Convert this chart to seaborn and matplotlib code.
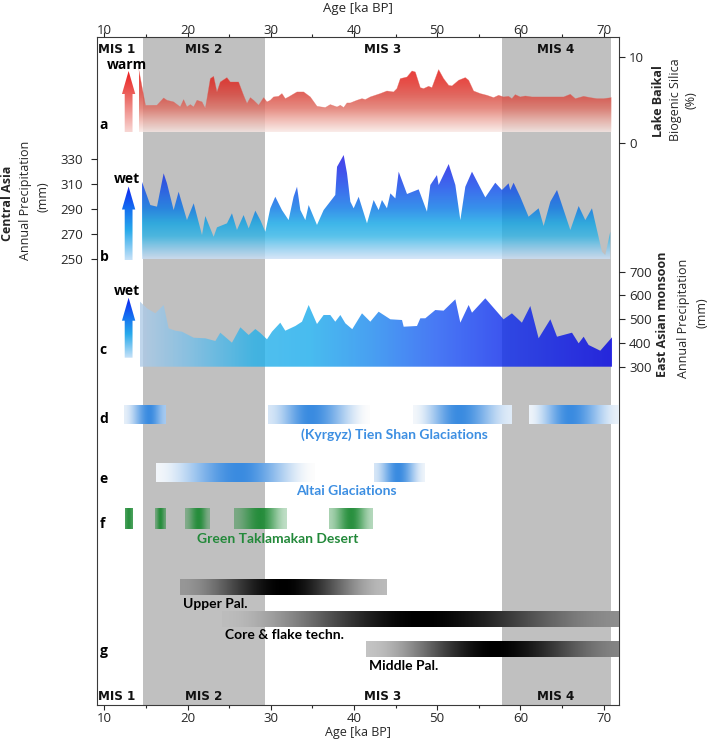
import numpy as np
import matplotlib
matplotlib.use("Agg")
import matplotlib.pyplot as plt
from matplotlib.colors import LinearSegmentedColormap, to_rgb
from matplotlib.ticker import MultipleLocator
from matplotlib import font_manager
import seaborn as sns

# ------------------------------------------------------------------ data
mis_names = ["MIS 1", "MIS 2", "MIS 3", "MIS 4"]
mis_label_age = [11.5, 22.0, 43.5, 64.3]
grey_start = [14.6, 57.8]
grey_end = [29.3, 70.9]

baikal_age = [14.13, 14.95, 16.33, 17.13, 17.53, 18.33, 19.13, 19.53, 19.93, 20.34, 20.74,
              21.14, 21.74, 22.14, 22.74, 23.14, 23.54, 23.94, 24.74, 25.14, 26.14, 26.74,
              27.15, 27.55, 27.95, 28.55, 29.15, 29.55, 29.95, 30.35, 30.95, 31.35, 31.75,
              32.15, 33.16, 33.96, 34.76, 35.56, 36.56, 37.16, 37.97, 38.37, 38.77, 39.17,
              39.57, 40.37, 40.97, 41.37, 41.97, 43.17, 43.97, 44.77, 45.17, 45.58, 46.38,
              46.98, 47.38, 47.98, 48.38, 48.98, 49.38, 50.18, 50.78, 51.39, 51.79, 52.59,
              53.39, 53.79, 54.39, 55.19, 55.99, 56.79, 57.39, 57.99, 58.59, 58.99, 59.39,
              59.99, 60.60, 61.40, 63.61, 65.21, 66.01, 66.61, 67.61, 68.41, 69.21, 70.01, 70.94]
baikal_bsi = [8.65, 4.40, 4.42, 5.27, 5.00, 4.81, 4.22, 5.08, 4.22, 4.50, 4.22,
              5.00, 4.81, 4.03, 7.52, 7.79, 5.97, 7.13, 7.64, 7.13, 7.13, 5.58,
              4.61, 5.31, 5.00, 4.42, 5.31, 4.81, 5.00, 5.39, 5.46, 5.78, 5.19,
              5.39, 5.97, 5.97, 5.39, 4.30, 4.15, 4.50, 4.22, 4.42, 4.15, 4.69,
              4.69, 5.00, 5.19, 5.08, 5.39, 5.78, 6.08, 5.97, 6.36, 7.52, 7.71,
              8.41, 8.29, 6.47, 6.36, 6.63, 6.47, 8.57, 7.52, 6.74, 6.67, 7.33,
              7.64, 7.33, 6.08, 5.78, 5.58, 5.31, 5.58, 5.39, 5.46, 5.19, 5.66,
              5.39, 5.50, 5.39, 5.39, 5.39, 5.70, 5.19, 5.46, 5.31, 5.19, 5.19, 5.31]
baikal_base = 1.3

ca_age = [14.52, 15.53, 16.33, 17.13, 17.53, 18.33, 18.93, 19.93, 20.74, 21.74, 22.14,
          23.14, 23.54, 24.74, 25.34, 25.94, 26.74, 27.35, 28.15, 28.75, 29.35, 29.95,
          30.55, 31.35, 32.15, 32.75, 33.16, 33.56, 34.16, 34.56, 35.56, 36.36, 37.76,
          37.97, 38.77, 39.17, 39.57, 39.97, 40.57, 41.57, 42.37, 42.97, 43.37, 43.97,
          44.38, 44.98, 45.38, 46.38, 47.78, 48.78, 49.18, 49.98, 50.18, 51.39, 52.19,
          52.79, 53.39, 54.19, 55.79, 56.99, 57.79, 58.59, 58.79, 59.19, 59.99, 60.99,
          62.20, 62.80, 63.61, 64.41, 66.01, 67.01, 67.81, 68.61, 69.81, 70.21, 70.81]
ca_precip = [311.9, 293.3, 292.0, 318.6, 310.6, 289.3, 303.9, 281.3, 294.7, 269.4, 284.5,
             268.0, 275.5, 278.7, 286.7, 273.4, 285.3, 274.7, 288.8, 281.3, 272.0, 290.7,
             299.9, 289.3, 281.3, 299.9, 307.9, 289.3, 281.3, 293.3, 277.4, 289.3, 301.3,
             323.8, 333.2, 318.6, 296.0, 290.7, 299.9, 278.7, 297.3, 289.3, 297.3, 290.7,
             302.6, 298.6, 319.9, 302.1, 305.8, 288.0, 309.3, 317.2, 309.3, 326.0, 309.3,
             281.3, 307.9, 319.9, 299.4, 311.1, 305.3, 310.6, 305.3, 311.1, 299.9, 284.0,
             290.7, 276.6, 296.0, 305.3, 273.4, 292.5, 281.3, 290.7, 256.1, 253.4, 272.0]
ca_base = 250

eam_age = [14.25, 15.13, 16.13, 17.13, 17.73, 18.53, 19.33, 20.74, 22.14, 23.34, 23.94,
           25.34, 26.35, 27.35, 28.15, 28.75, 29.55, 30.15, 31.15, 31.75, 32.96, 33.76,
           34.56, 35.56, 36.36, 37.16, 37.76, 38.37, 38.97, 39.80, 40.97, 41.97, 42.97,
           44.38, 45.78, 45.98, 47.58, 47.98, 48.58, 49.78, 50.78, 52.19, 52.79, 53.79,
           54.19, 55.79, 57.99, 58.99, 60.19, 61.20, 62.20, 63.61, 64.41, 66.21, 67.01,
           67.61, 68.21, 69.61, 71.02]
eam_precip = [575.0, 545.9, 524.8, 559.8, 461.7, 451.6, 447.4, 422.1, 419.6, 408.2, 443.2,
              401.1, 465.9, 433.5, 458.7, 442.0, 415.4, 447.4, 485.3, 451.6, 471.4, 489.5,
              559.8, 479.8, 517.7, 517.7, 489.5, 517.7, 482.7, 458.0, 524.8, 489.5, 531.6,
              499.6, 496.6, 468.4, 471.4, 503.8, 503.8, 538.7, 536.0, 583.8, 485.3, 559.8,
              527.4, 588.0, 499.6, 524.8, 485.3, 555.6, 419.6, 499.6, 426.3, 443.2, 398.5,
              426.3, 391.4, 367.4, 423.8]
eam_base = 300

# glaciation / desert / archaeology periods: (start, peak, end) in ka BP
tienshan_periods = [(12.4, 15.4, 17.33), (29.65, 34.7, 41.84), (47.1, 52.6, 58.9), (61.1, 66.0, 71.9)]
altai_periods = [(16.2, 26.2, 35.3), (42.45, 45.3, 48.5)]
taklamakan_periods = [(12.46, 12.9, 13.39), (16.1, 16.7, 17.33), (19.7, 21.3, 22.6),
                      (25.6, 28.8, 31.96), (36.95, 39.6, 42.2)]
techno_names = ["Upper Pal.", "Core & flake techn.", "Middle Pal."]
techno_periods = [(19.1, 31.5, 43.9), (24.15, 47.9, 72.5), (41.5, 56.9, 72.5)]

# ------------------------------------------------------------------ style
sns.set_theme(style="ticks")
plt.rcParams["font.family"] = ["Open Sans", "DejaVu Sans"]
plt.rcParams["axes.linewidth"] = 0.8

# condensed bold font for MIS labels
cond_fp = None
for f in font_manager.fontManager.ttflist:
    nm = f.name.lower()
    if (("condensed" in nm or "narrow" in nm or f.stretch in ("condensed", "semi-condensed"))
            and (f.weight in ("bold", 700) or str(f.weight) == "700")):
        cond_fp = font_manager.FontProperties(fname=f.fname, size=9.5)
        break
if cond_fp is None:
    cond_fp = font_manager.FontProperties(family="DejaVu Sans", weight="bold", size=8)

W, H = 711, 739
L, R, T, B = 97, 619, 37, 705
XLIM = (9.12, 71.86)
fig = plt.figure(figsize=(W / 100, H / 100), dpi=100)
rect = [L / W, 1 - B / H, (R - L) / W, (B - T) / H]
ax_bg = fig.add_axes(rect)
ax_a = fig.add_axes(rect)
ax_b = fig.add_axes(rect)
ax_c = fig.add_axes(rect)
ax_fg = fig.add_axes(rect)
for ax in (ax_a, ax_b, ax_c, ax_fg):
    ax.patch.set_alpha(0)
    for s in ax.spines.values():
        s.set_visible(False)
    ax.tick_params(axis="x", which="both", bottom=False, top=False,
                   labelbottom=False, labeltop=False)
ax_fg.tick_params(axis="y", left=False, right=False, labelleft=False, labelright=False)

FILL_ALPHA = 0.8


def comp(cols, a=FILL_ALPHA):
    out = []
    for pos, c in cols:
        rgb = np.array(c) / 255.0
        out.append((pos, tuple(np.clip((rgb - (1 - a)) / a, 0, 1))))
    return out


def grad_cmap(name, stops):
    return LinearSegmentedColormap.from_list(name, stops)


def gradient_fill(ax, x, y, base, cmap, vertical, extent):
    poly = ax.fill_between(x, base, y, facecolor="none", edgecolor="none")
    ramp = cmap(np.linspace(0, 1, 256))
    img = ramp[:, None, :] if vertical else ramp[None, :, :]
    im = ax.imshow(img, extent=extent, origin="lower", aspect="auto",
                   alpha=FILL_ALPHA, zorder=2, interpolation="bilinear")
    im.set_clip_path(poly.get_paths()[0], transform=ax.transData)


# background: grey MIS bands
for s, e in zip(grey_start, grey_end):
    ax_bg.axvspan(s, e, color="#c0c0c0", lw=0, zorder=0)

# panel a: Lake Baikal
a_top = 9.6
cm_a = grad_cmap("a", comp([(0.0, (250, 236, 233)), (0.15, (242, 195, 188)), (0.33, (230, 140, 130)),
                             (0.51, (225, 104, 96)), (0.69, (230, 78, 72)), (1.0, (236, 50, 50))]))
gradient_fill(ax_a, baikal_age, baikal_bsi, baikal_base, cm_a, True,
              (baikal_age[0], baikal_age[-1], baikal_base, a_top))
sns.lineplot(x=baikal_age, y=baikal_bsi, ax=ax_a, color="#e2625a", lw=0.4, alpha=0.5,
             estimator=None, sort=False)

# panel b: Central Asia precipitation
b_top = 336
cm_b = grad_cmap("b", comp([(0.0, (215, 230, 248)), (0.09, (165, 215, 242)), (0.21, (90, 195, 235)),
                             (0.33, (62, 182, 234)), (0.47, (55, 145, 235)), (0.65, (60, 110, 238)),
                             (0.81, (65, 82, 236)), (1.0, (72, 60, 232))]))
gradient_fill(ax_b, ca_age, ca_precip, ca_base, cm_b, True,
              (ca_age[0], ca_age[-1], ca_base, b_top))

# panel c: East Asian monsoon precipitation (horizontal gradient)
cm_c = grad_cmap("c", comp([(0.0, (192, 214, 236)), (0.1, (150, 205, 238)), (0.24, (80, 192, 238)),
                             (0.36, (72, 188, 240)), (0.49, (72, 160, 242)), (0.63, (72, 120, 245)),
                             (0.77, (60, 85, 240)), (1.0, (45, 40, 232))]))
gradient_fill(ax_c, eam_age, eam_precip, eam_base, cm_c, False,
              (eam_age[0], eam_age[-1], eam_base, 620))

# y axes of panels
ax_a.set_ylim(-65.31, 12.36)
ax_a.yaxis.set_ticks_position("right")
ax_a.set_yticks([0, 10])
ax_a.tick_params(axis="y", direction="out", length=4.2, width=0.8, pad=3, labelsize=9.5,
                 right=True, left=False, labelright=True, labelleft=False)

ax_b.set_ylim(-105.4, 427.3)
ax_b.yaxis.set_ticks_position("left")
ax_b.set_yticks([250, 270, 290, 310, 330])
ax_b.tick_params(axis="y", direction="out", length=4.3, width=0.8, pad=6, labelsize=9.5,
                 left=True, right=False, labelleft=True, labelright=False)

ax_c.set_ylim(-1124.4, 1688.2)
ax_c.yaxis.set_ticks_position("right")
ax_c.set_yticks([300, 400, 500, 600, 700])
ax_c.tick_params(axis="y", direction="out", length=4.2, width=0.8, pad=3, labelsize=9.5,
                 right=True, left=False, labelright=True, labelleft=False)

# ------------------------------------------------------------------ foreground (pixel rows)
ax_fg.set_ylim(B, T)


def arrow(ax, yt, yb, hl, stops):
    xc, hw, hh = 12.92, 0.47, 0.80
    pts = [(xc - hw, yb), (xc + hw, yb), (xc + hw, yt + hl), (xc + hh, yt + hl), (xc, yt),
           (xc - hh, yt + hl), (xc - hw, yt + hl)]
    poly = plt.Polygon(pts, closed=True, facecolor="none", edgecolor="none")
    ax.add_patch(poly)
    ramp = grad_cmap("ar", stops)(np.linspace(0, 1, 256))
    im = ax.imshow(ramp[:, None, :], extent=(xc - hh, xc + hh, yb, yt), origin="lower",
                   aspect="auto", zorder=3, interpolation="bilinear")
    im.set_clip_path(poly)


red_stops = [(0.0, (248 / 255, 215 / 255, 212 / 255)), (0.55, (236 / 255, 110 / 255, 105 / 255)),
             (1.0, (235 / 255, 30 / 255, 30 / 255))]
blue_stops = [(0.0, (200 / 255, 226 / 255, 248 / 255)), (0.4, (40 / 255, 170 / 255, 235 / 255)),
              (0.7, (20 / 255, 110 / 255, 240 / 255)), (1.0, (15 / 255, 35 / 255, 240 / 255))]
arrow(ax_fg, 71, 132, 23, red_stops)
arrow(ax_fg, 186.5, 260, 23, blue_stops)
arrow(ax_fg, 297.7, 357.7, 23, blue_stops)

bold = dict(fontweight="bold", fontsize=10, color="black")
ax_fg.text(12.7, 65, "warm", ha="center", va="center", **bold)
ax_fg.text(12.76, 179, "wet", ha="center", va="center", **bold)
ax_fg.text(12.76, 290.7, "wet", ha="center", va="center", **bold)
for lab, yy in zip("abcdefg", [125, 256.7, 350, 419.4, 478.6, 524.2, 650.6]):
    ax_fg.text(9.45, yy, lab, ha="left", va="center", **bold)


def smooth_profile(xs, s, c, e, i0, i1):
    t = np.where(xs < c, (xs - s) / max(c - s, 1e-6), (e - xs) / max(e - c, 1e-6))
    t = np.clip(t, 0, 1)
    sm = t * t * (3 - 2 * t)
    return np.where(xs < c, i0 + (1 - i0) * sm, i1 + (1 - i1) * sm)


def hbar(ax, period, y0, y1, ends, kind):
    s, c, e = period
    xs = np.linspace(s, e, 500)
    inten = smooth_profile(xs, s, c, e, ends[0], ends[1])
    img = np.ones((1, xs.size, 4))
    if kind == "blue":
        col = np.array(to_rgb("#3a8be0"))
        img[0, :, :3] = (1 - inten[:, None]) * 0.99 + inten[:, None] * col
    elif kind == "green":
        img[0, :, :3] = to_rgb("#1d8a34")
        img[0, :, 3] = inten * 0.95
    else:
        img[0, :, :3] = ((1 - inten) * 0.87)[:, None]
    ax.imshow(img, extent=(s, e, y1, y0), origin="lower", aspect="auto", zorder=3,
              interpolation="bilinear")


tienshan_ends = [(0.12, 0.45), (0.2, 0.0), (0.05, 0.15), (0.08, 0.1)]
for p, en in zip(tienshan_periods, tienshan_ends):
    hbar(ax_fg, p, 405.2, 423.8, en, "blue")
altai_ends = [(0.05, 0.0), (0.2, 0.08)]
for p, en in zip(altai_periods, altai_ends):
    hbar(ax_fg, p, 463.7, 482, en, "blue")
takla_ends = [(0.85, 0.85), (0.5, 0.55), (0.4, 0.4), (0.45, 0.3), (0.4, 0.35)]
for p, en in zip(taklamakan_periods, takla_ends):
    hbar(ax_fg, p, 509, 529.3, en, "green")
techno_rows = [(580.3, 595.5), (611.4, 626.6), (641.8, 657)]
techno_ends = [(0.32, 0.16), (0.15, 0.36), (0.12, 0.4)]
techno_label_y = [604, 635, 665.5]
for p, (y0, y1), en, nm, ly in zip(techno_periods, techno_rows, techno_ends, techno_names, techno_label_y):
    hbar(ax_fg, p, y0, y1, en, "grey")
    ax_fg.text(p[0] + 0.32, ly, nm, ha="left", va="center", fontsize=10, fontweight="bold",
               family=["Lato", "DejaVu Sans"], color="black")

ax_fg.text(44.83, 435, "(Kyrgyz) Tien Shan Glaciations", ha="center", va="center", fontsize=10,
           fontweight="bold", family=["Lato", "DejaVu Sans"], color="#3d8fe2")
ax_fg.text(39.07, 490.7, "Altai Glaciations", ha="center", va="center", fontsize=10,
           fontweight="bold", family=["Lato", "DejaVu Sans"], color="#3d8fe2")
ax_fg.text(30.85, 539.4, "Green Taklamakan Desert", ha="center", va="center", fontsize=10,
           fontweight="bold", family=["Lato", "DejaVu Sans"], color="#23893a")

for nm, ag in zip(mis_names, mis_label_age):
    ax_fg.text(ag, 49.5, nm, ha="center", va="center", fontproperties=cond_fp, color="#111111")
    ax_fg.text(ag, 697, nm, ha="center", va="center", fontproperties=cond_fp, color="#111111")

# ------------------------------------------------------------------ x axes
for ax in (ax_bg, ax_a, ax_b, ax_c, ax_fg):
    ax.set_xlim(*XLIM)
ax_bg.set_ylim(B, T)
ax_bg.set_yticks([])
for s in ax_bg.spines.values():
    s.set_visible(True)
    s.set_color("#3a3a3a")
    s.set_linewidth(0.8)
ax_bg.xaxis.set_major_locator(MultipleLocator(10))
ax_bg.xaxis.set_minor_locator(MultipleLocator(5))
ax_bg.tick_params(axis="x", which="major", direction="out", length=3.5, width=0.8, pad=1.5,
                  labelsize=9.5, bottom=True, top=False)
ax_bg.tick_params(axis="x", which="minor", direction="out", length=2.2, width=0.8, bottom=True, top=False)
ax_bg.set_xlabel("Age [ka BP]", fontsize=9, labelpad=0.5)

sec = ax_bg.secondary_xaxis("top")
sec.xaxis.set_major_locator(MultipleLocator(10))
sec.xaxis.set_minor_locator(MultipleLocator(5))
sec.tick_params(axis="x", which="major", direction="out", length=3.5, width=0.8, pad=-3.2, labelsize=9.5)
sec.tick_params(axis="x", which="minor", direction="out", length=2.2, width=0.8)
sec.spines["top"].set_visible(False)
sec.set_xlabel("Age [ka BP]", fontsize=9.5, labelpad=8)

# side labels
def ftxt(x, y, s, **kw):
    fig.text(x / W, 1 - y / H, s, rotation=90, ha="center", va="center", **kw)

ftxt(8, 203, "Central Asia", fontsize=9, fontweight="bold")
ftxt(26, 200, "Annual Precipitation", fontsize=9)
ftxt(43, 197, "(mm)", fontsize=9)
ftxt(658, 101, "Lake Baikal", fontsize=9, fontweight="bold")
ftxt(675, 100, "Biogenic Silica", fontsize=9)
ftxt(691, 100, "(%)", fontsize=9)
ftxt(663, 314, "East Asian monsoon", fontsize=9, fontweight="bold")
ftxt(683, 318, "Annual Precipitation", fontsize=9)
ftxt(702, 313, "(mm)", fontsize=9)

fig.savefig("out.png", dpi=100)
